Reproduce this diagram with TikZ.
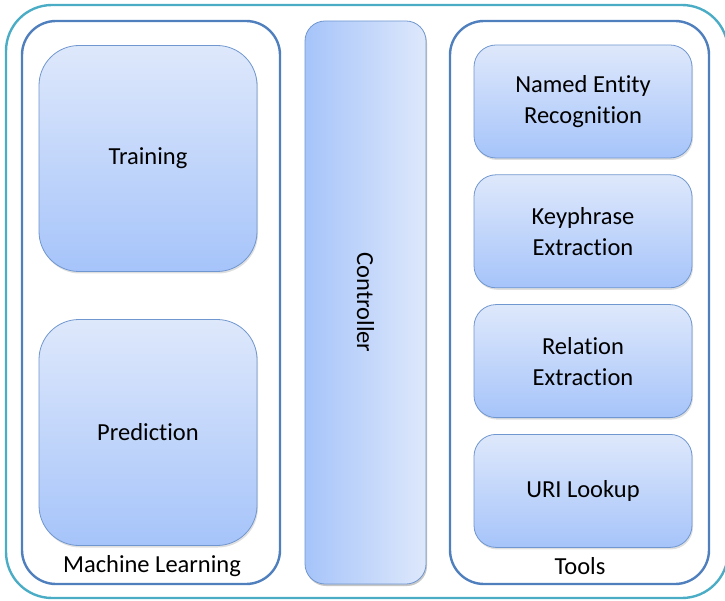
\documentclass[tikz,border=0pt]{standalone}
\usepackage{fontspec}
\setmainfont[Ligatures=NoCommon]{Carlito}
\usetikzlibrary{positioning,shadows}

\definecolor{boxtop}{HTML}{DEE8FB}
\definecolor{boxbot}{HTML}{A6C4FA}
\definecolor{boxline}{HTML}{7097CF}
\definecolor{groupline}{HTML}{4F7FBD}
\definecolor{outerline}{HTML}{4BACC6}

\begin{document}
\begin{tikzpicture}[x=1pt,y=-1pt,node distance=16pt,
  font=\fontsize{24.5}{31}\selectfont,
  group/.style = {draw=groupline,line width=2.4pt,rounded corners=34pt,
    minimum width=258pt,minimum height=563pt},
  part/.style = {draw=boxline,line width=0.8pt,top color=boxtop,bottom color=boxbot,
    drop shadow={shadow xshift=1pt,shadow yshift=-2pt,opacity=0.25},
    align=center,inner sep=0pt},
  mlpart/.style = {part,rounded corners=40pt,minimum width=218pt,minimum height=226pt},
  tool/.style = {part,rounded corners=22pt,minimum width=218pt,minimum height=113pt}]
\useasboundingbox (0,0) rectangle (725,601);

\draw[outerline,line width=2.4pt,rounded corners=46pt] (6,5) rectangle (728,598);

% machine learning side
\node (ml) [group] at (151,302.5) {};
\node (train) [mlpart] at (148,158.5) {Training};
\node (pred) [mlpart] at (148,432.5) {Prediction};
\node (mllabel) at (152,566) {Machine Learning};

% controller in the middle
\node (ctrl) [part,rounded corners=20pt,minimum width=121pt,minimum height=563pt,
  left color=boxbot,right color=boxtop,drop shadow={shadow xshift=1pt,shadow yshift=-2pt,opacity=0.25}]
  at (365.5,302.5) {};
\node (ctrltext) [rotate=-90] at (ctrl.center) {Controller};

% tools side
\node (tools) [group,minimum width=259pt] at (579.5,302.5) {};
\node (ner) [tool] at (583,101.5) {Named Entity\\Recognition};
\node (key) [tool,below=of ner] {Keyphrase\\Extraction};
\node (rel) [tool,below=of key] {Relation\\Extraction};
\node (uri) [tool,below=of rel] {URI Lookup};
\node (toollabel) at (580,566) {Tools};

\end{tikzpicture}
\end{document}
